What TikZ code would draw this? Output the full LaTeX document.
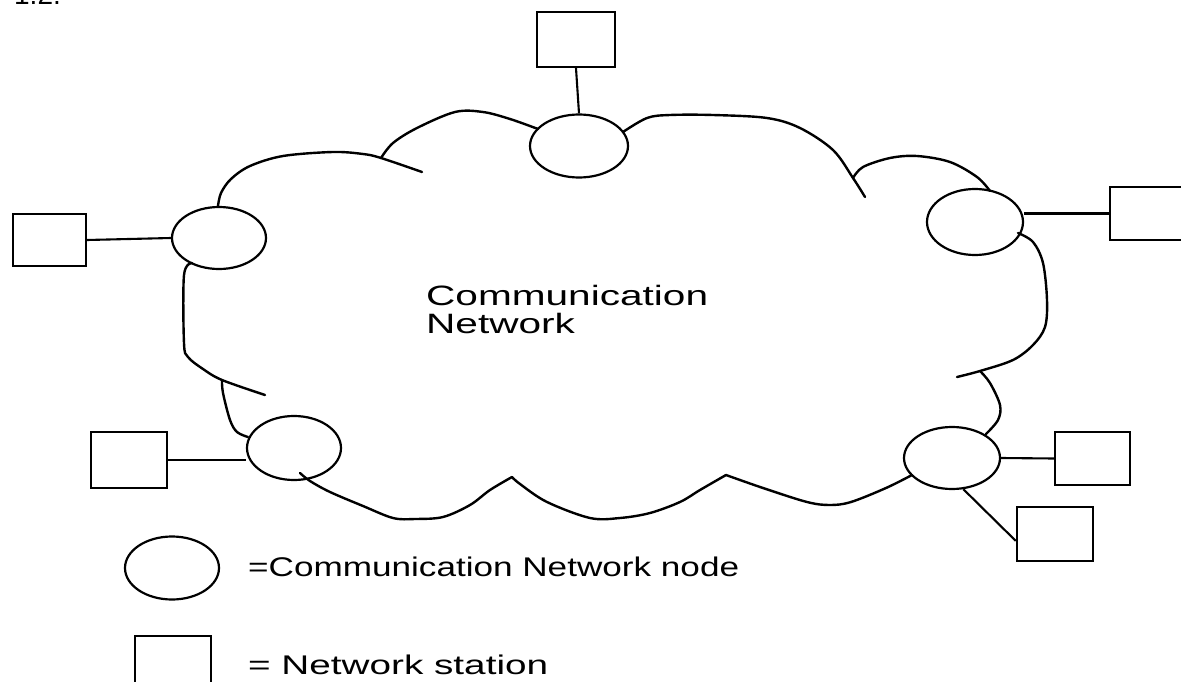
\documentclass[tikz,border=0pt]{standalone}
\usepackage{fontspec}
\setmainfont{Liberation Sans}
\usetikzlibrary{shapes.geometric}
\begin{document}
\begin{tikzpicture}[x=1pt,y=-1pt, line width=2.3pt,
  netnode/.style={ellipse, draw, inner sep=0pt, line width=2.2pt},
  station/.style={rectangle, draw, inner sep=0pt, line width=2.4pt},
  link/.style={draw, line width=2.1pt},
  cloud/.style={line width=2.4pt, line join=round, line cap=round},
  lbl/.style={inner sep=0pt, anchor=base west, font=\fontsize{27}{27}\selectfont}]
\useasboundingbox (0,0) rectangle (1181,682);
\clip (0,0) rectangle (1181,682);

% figure number (cut off at the top edge, as in the reference)
\node[inner sep=0pt, anchor=base west, font=\fontsize{28}{28}\selectfont] (fig) at (13,5) {1.2.};

% network stations
\node[station, minimum width=78pt, minimum height=55pt] (s1) at (576,39.5) {};
\node[station, minimum width=73pt, minimum height=52pt] (s2) at (49.5,240) {};
\node[station, minimum width=75pt, minimum height=53pt] (s3) at (1147.5,213.5) {};
\node[station, minimum width=76pt, minimum height=56pt] (s4) at (129,460) {};
\node[station, minimum width=75pt, minimum height=53pt] (s5) at (1092.5,458.5) {};
\node[station, minimum width=76pt, minimum height=54pt] (s6) at (1055,534) {};

% communication network nodes
\node[netnode, minimum width=98pt, minimum height=63pt] (n1) at (579,146) {};
\node[netnode, minimum width=94pt, minimum height=62pt] (n2) at (219,238) {};
\node[netnode, minimum width=96pt, minimum height=66pt] (n3) at (975,222) {};
\node[netnode, minimum width=94pt, minimum height=64pt] (n4) at (294,448) {};
\node[netnode, minimum width=96pt, minimum height=62pt] (n5) at (952,458) {};

% links
\draw[link] (s1.south) -- (n1.north);
\draw[link] (s2.east) -- (n2.west);
\draw[link] (n3.east |- s3.west) -- (s3.west);
\draw[link] (s4.east) -- (n4.west |- s4.east);
\draw[link] (n5.east) -- (s5.west);
\draw[link] (n5.-70) -- (s6.190);

% cloud outline
\draw[cloud] plot[smooth, tension=0.55] coordinates {(218,206) (221,193) (231,179) (250,166) (283,156) (333,152) (363,154) (381,158) (422,172)};
\draw[cloud] plot[smooth, tension=0.55] coordinates {(381,158) (393,143) (417,128) (455,112) (483,112) (510,119) (538,129)};
\draw[cloud] plot[smooth, tension=0.55] coordinates {(623,132) (647,118) (670,115) (713,115) (767,118) (800,128) (833,150) (853,178) (865,197)};
\draw[cloud] plot[smooth, tension=0.55] coordinates {(853,178) (863,167) (890,158) (917,156) (950,162) (977,177) (990,191)};
\draw[cloud] plot[smooth, tension=0.55] coordinates {(1018,233) (1033,242) (1043,263) (1047,300) (1045,327) (1033,345) (1013,360) (980,371) (957,377)};
\draw[cloud] plot[smooth, tension=0.55] coordinates {(980,371) (990,383) (1000,405) (998,420) (986,434)};
\draw[cloud] plot[smooth, tension=0.55] coordinates {(912,475) (886,488) (851,502) (830,505) (807,502) (763,488) (726,475)};
\draw[cloud] plot[smooth, tension=0.55] coordinates {(726,475) (700,490) (680,502) (650,513) (620,518) (590,518) (547,502) (520,484) (512,477)};
\draw[cloud] plot[smooth, tension=0.55] coordinates {(512,477) (490,490) (470,505) (443,517) (415,519) (393,518) (363,506) (330,492) (310,481) (300,473)};
\draw[cloud] plot[smooth, tension=0.55] coordinates {(248,437) (237,432) (230,420) (223,393) (222,380)};
\draw[cloud] plot[smooth, tension=0.55] coordinates {(192,263) (184,275) (184,343) (188,357) (203,369) (222,380) (265,395)};

% cloud label
\node[inner sep=0pt, anchor=base west, font=\fontsize{28}{27}\selectfont] (title) at (425,305)
  {\resizebox{282pt}{\height}{\begin{tabular}[t]{@{}l@{}}Communication\\Network\end{tabular}}};

% legend
\node[netnode, minimum width=94pt, minimum height=63pt] (l1) at (172,568) {};
\node[station, minimum width=76pt, minimum height=52pt] (l2) at (173,662) {};
\node[lbl] (t1) at (247,576) {\resizebox{491pt}{\height}{=Communication Network node}};
\node[lbl] (t2) at (247,674) {\resizebox{300pt}{\height}{= Network station}};
\end{tikzpicture}
\end{document}
